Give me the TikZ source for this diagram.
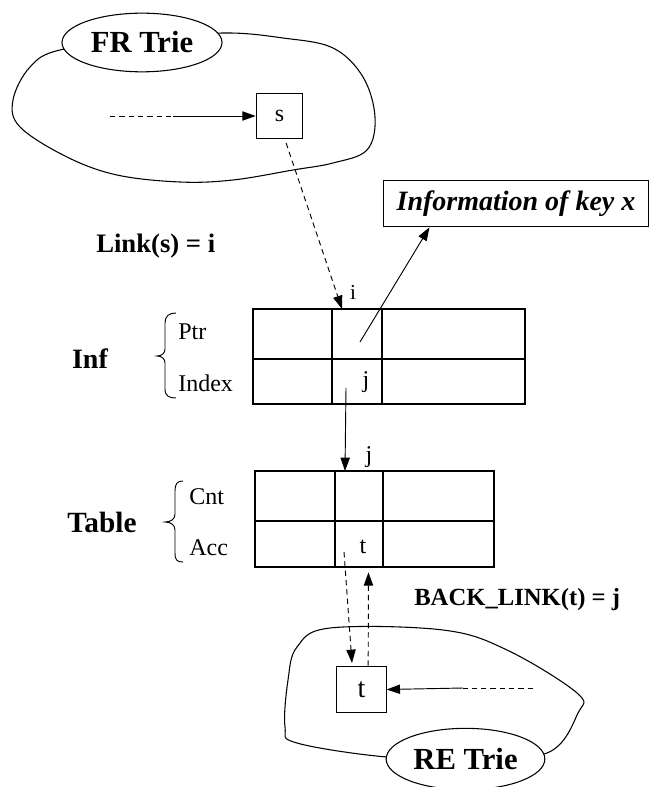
\documentclass[tikz,border=0pt]{standalone}
\usepackage{fontspec}
\setmainfont{Liberation Serif}
\usetikzlibrary{arrows.meta,positioning,shapes.geometric}
\tikzset{
  link/.style={-{Triangle[length=10pt,width=7pt]}, line width=0.7pt},
  dashlink/.style={link, dash pattern=on 4pt off 3pt},
  blob/.style={line width=0.8pt},
  grid/.style={line width=1pt},
  trie/.style={draw, ellipse, line width=0.8pt, fill=white, inner sep=0pt, font=\fontsize{23}{26}\selectfont\bfseries},
  keybox/.style={draw, line width=0.8pt, inner sep=0pt, font=\fontsize{18}{20}\selectfont},
  field/.style={anchor=west, inner sep=0.75pt, font=\fontsize{18}{20}\selectfont},
  head/.style={inner sep=0.75pt, font=\fontsize{21}{24}\selectfont\bfseries},
  cellmark/.style={inner sep=0.75pt, font=\fontsize{18}{20}\selectfont},
}
\begin{document}
\begin{tikzpicture}[x=0.75pt,y=0.75pt,yscale=-1,xscale=1]
\useasboundingbox (0,0) rectangle (650,787);
%Shape: FR region
\draw [blob] plot [smooth cycle, tension=0.6] coordinates {(142,40) (60,50) (30,67) (13,100) (20,127) (67,157) (117,175) (180,182) (233,180) (293,170) (333,163) (367,150) (375,117) (363,77) (333,48) (283,38) (223,33)};
%Shape: FR ellipse
\node [trie, minimum width=120pt, minimum height=44pt] (frTrie) at (142,42.5) {FR Trie};
%Shape: key s
\node [keybox, minimum width=35pt, minimum height=34pt] (sKey) at (279.5,116) {s};
\coordinate (frFrom) at (110,116);
\coordinate (frMid) at (173,116);
\draw [line width=0.7pt, dash pattern=on 4pt off 3pt] (frFrom) -- (frMid);
\draw [link] (frMid) -- (sKey.west);

%Shape: information box
\node [draw, line width=0.8pt, minimum width=199pt, minimum height=35pt, inner sep=0pt, font=\fontsize{21}{24}\selectfont\bfseries\itshape] (infoBox) at (516,203.5) {Information of key x};

% Text Node
\node [head, anchor=west, font=\fontsize{20}{22}\selectfont\bfseries] (linkLbl) at (95,246) {Link(s) = i};

%Shape: Inf table
\draw [grid] (253,309) rectangle (525,404);
\draw [grid] (253,359) -- (525,359) (332,309) -- (332,404) (382,309) -- (382,404);
\coordinate (infTop) at (342,309);
\coordinate (ptrTail) at (360,342);
\coordinate (idxTail) at (346,388);
\node [cellmark, font=\fontsize{16}{18}\selectfont] (iLbl) at (353,292) {i};
\node [cellmark] (jIdx) at (366,382) {j};
\node [head] (infLbl) at (90,359) {Inf};
\node [field] (ptrLbl) at (177,332) {Ptr};
\node [field] (idxLbl) at (177,383) {Index};
\draw [line width=0.7pt] (176,313) .. controls (169,313) and (165,316) .. (165,323) -- (165,349) .. controls (165,353) and (162,356) .. (157,356) .. controls (162,356) and (165,359) .. (165,363) -- (165,389) .. controls (165,396) and (169,398) .. (176,398);

%Shape: Table
\draw [grid] (255,471) rectangle (494,567);
\draw [grid] (255,521) -- (494,521) (335,471) -- (335,567) (383,471) -- (383,567);
\coordinate (tabTop) at (345,471);
\coordinate (tabBot) at (368.5,567);
\coordinate (accTail) at (344,552);
\node [cellmark] (jTab) at (369,457) {j};
\node [cellmark] (tAcc) at (363,547) {t};
\node [head, font=\fontsize{22}{24}\selectfont\bfseries] (tabLbl) at (102,522) {Table};
\node [field] (cntLbl) at (188,497) {Cnt};
\node [field] (accLbl) at (188,548) {Acc};
\draw [line width=0.7pt] (183,481) .. controls (177,481) and (175,484) .. (175,491) -- (175,514) .. controls (175,519) and (171,522) .. (165,522) .. controls (171,522) and (175,525) .. (175,530) -- (175,553) .. controls (175,560) and (177,562) .. (183,562);

% Text Node
\node [head, anchor=west, font=\fontsize{18.5}{20}\selectfont\bfseries] (backLbl) at (413,600) {BACK\_LINK(t) = j};

%Shape: RE region
\draw [blob] plot [smooth cycle, tension=0.6] coordinates {(465,757) (387,757) (297,743) (285,727) (288,680) (297,647) (330,628) (443,630) (507,650) (577,693) (578,713) (547,753)};
%Shape: RE ellipse
\node [trie, minimum width=119pt, minimum height=46pt] (reTrie) at (465.5,759) {RE Trie};
%Shape: key t
\node [keybox, minimum width=37pt, minimum height=35pt, font=\fontsize{21}{23}\selectfont] (tKey) at (361.5,689.5) {t};
\coordinate (reFrom) at (533,688);
\coordinate (reMid) at (463,688);
\draw [line width=0.7pt, dash pattern=on 4pt off 3pt] (reFrom) -- (reMid);
\draw [link] (reMid) -- (tKey.east);

%Connectors
\draw [dashlink, shorten <=3pt] ([xshift=4pt]sKey.south) -- (infTop);
\draw [link] (ptrTail) -- ([xshift=35pt]infoBox.south west);
\draw [link] (idxTail) -- (tabTop);
\draw [dashlink, shorten >=2pt] (accTail) -- ([xshift=-7pt]tKey.north);
\draw [dashlink, shorten >=4pt] ([xshift=5pt]tKey.north) -- (tabBot);
\end{tikzpicture}
\end{document}
